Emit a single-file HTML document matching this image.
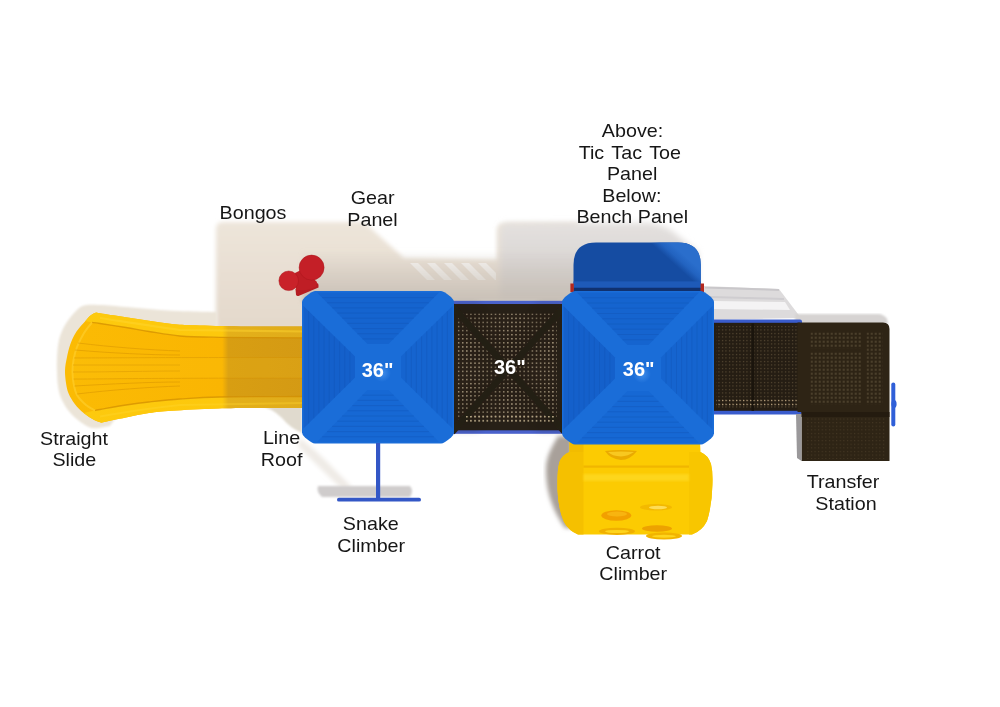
<!DOCTYPE html>
<html><head><meta charset="utf-8">
<style>
html,body{margin:0;padding:0;background:#fff;}
body{width:1000px;height:707px;overflow:hidden;position:relative;}
svg{position:absolute;left:0;top:0;display:block;}
.lb{font-family:"Liberation Sans",sans-serif;font-size:18.8px;fill:#161616;}
.n{font-family:"Liberation Sans",sans-serif;font-size:20px;font-weight:bold;fill:#fff;}
</style></head><body>
<svg width="1000" height="707" viewBox="0 0 1000 707">
<defs>
  <filter id="b3" x="-10%" y="-10%" width="120%" height="120%"><feGaussianBlur stdDeviation="3"/></filter>
  <filter id="b2" x="-10%" y="-10%" width="120%" height="120%"><feGaussianBlur stdDeviation="2"/></filter>
  <filter id="b1" x="-10%" y="-10%" width="120%" height="120%"><feGaussianBlur stdDeviation="1"/></filter>
  <filter id="b05" x="-10%" y="-10%" width="120%" height="120%"><feGaussianBlur stdDeviation="0.6"/></filter>
  <radialGradient id="glow"><stop offset="0" stop-color="#4a95ee" stop-opacity="0.8"/><stop offset="1" stop-color="#4a95ee" stop-opacity="0"/></radialGradient>
  <pattern id="dots" width="3.5" height="3.5" patternUnits="userSpaceOnUse" x="714" y="325">
    <rect width="3.5" height="3.5" fill="#251d13"/>
    <rect x="1" y="1" width="1" height="1" fill="#6e5e42"/>
  </pattern>
  <pattern id="dotsM" width="4.1" height="4.08" patternUnits="userSpaceOnUse" x="457.8" y="313.5">
    <rect width="4.1" height="4.08" fill="#2a2118"/>
    <rect x="0" y="0" width="1.6" height="1.5" fill="#968870"/>
  </pattern>
  <pattern id="dotsB" width="4.1" height="4.1" patternUnits="userSpaceOnUse" x="457.8" y="0">
    <rect x="0" y="0" width="1.7" height="4.1" fill="#b0a080"/>
  </pattern>
  <pattern id="dotsT" width="4" height="4" patternUnits="userSpaceOnUse" x="810.6" y="332.6">
    <rect width="4" height="4" fill="#2e2415"/>
    <rect x="0.5" y="0.5" width="1.3" height="1.3" fill="#786a4e"/>
  </pattern>
  <pattern id="dotsB2" width="3.5" height="4" patternUnits="userSpaceOnUse" x="715" y="0">
    <rect x="0" y="0" width="1.3" height="4" fill="#b09a78"/>
  </pattern>
  <pattern id="dots2" width="3.5" height="3.5" patternUnits="userSpaceOnUse">
    <rect width="3.5" height="3.5" fill="#352b1c"/>
    <rect x="1" y="1" width="1.1" height="1.1" fill="#8a7a58"/>
  </pattern>
  <pattern id="dots3" width="3.6" height="3.6" patternUnits="userSpaceOnUse">
    <rect width="3.6" height="3.6" fill="#2e2415"/>
    <rect x="1" y="1" width="1" height="1" fill="#4a3d28"/>
  </pattern>
  <linearGradient id="slideG" gradientUnits="userSpaceOnUse" x1="65" y1="0" x2="305" y2="0">
    <stop offset="0" stop-color="#fbbb04"/>
    <stop offset="0.655" stop-color="#fab502"/>
    <stop offset="0.68" stop-color="#d89e12"/>
    <stop offset="1" stop-color="#d49a14"/>
  </linearGradient>
  <linearGradient id="lipG" gradientUnits="userSpaceOnUse" x1="65" y1="0" x2="305" y2="0">
    <stop offset="0" stop-color="#fdca0e"/>
    <stop offset="0.655" stop-color="#fdc80c"/>
    <stop offset="0.68" stop-color="#e4b01a"/>
    <stop offset="1" stop-color="#e0ac1a"/>
  </linearGradient>
  <linearGradient id="benchG" x1="0" y1="0" x2="1" y2="0.35">
    <stop offset="0" stop-color="#1751ad"/>
    <stop offset="0.6" stop-color="#1751ad"/>
    <stop offset="0.72" stop-color="#2366c4"/>
    <stop offset="1" stop-color="#2a70d0"/>
  </linearGradient>
  <linearGradient id="benchL" gradientUnits="userSpaceOnUse" x1="674" y1="264" x2="683" y2="254">
    <stop offset="0" stop-color="#2466c4" stop-opacity="0"/>
    <stop offset="0.5" stop-color="#2466c4" stop-opacity="0.9"/>
    <stop offset="1" stop-color="#2a6ecc" stop-opacity="1"/>
  </linearGradient>
  <linearGradient id="shG" gradientUnits="userSpaceOnUse" x1="0" y1="222" x2="0" y2="320">
    <stop offset="0" stop-color="#ede5da"/>
    <stop offset="1" stop-color="#e4d9cc"/>
  </linearGradient>
  <linearGradient id="aoG" gradientUnits="userSpaceOnUse" x1="0" y1="250" x2="0" y2="300">
    <stop offset="0" stop-color="#c6beb5" stop-opacity="0"/>
    <stop offset="1" stop-color="#c6beb5" stop-opacity="0.9"/>
  </linearGradient>
  <linearGradient id="shG2" gradientUnits="userSpaceOnUse" x1="0" y1="222" x2="0" y2="300">
    <stop offset="0" stop-color="#e4e1df"/>
    <stop offset="0.6" stop-color="#d9d5d3"/>
    <stop offset="1" stop-color="#cfcac7"/>
  </linearGradient>
  <radialGradient id="xsh" cx="0.5" cy="0.5" r="0.5">
    <stop offset="0" stop-color="#000" stop-opacity="0.35"/>
    <stop offset="1" stop-color="#000" stop-opacity="0"/>
  </radialGradient>
</defs>

<!-- ===== shadows ===== -->
<g id="shadows">
  <path d="M216 229 Q216 222 223 222 L364 222 Q386 242 404 258 L497 259.5 L497 230 Q497 223 505 223 L578 223 L578 305 L305 305 L305 330 L216 330 Z" fill="url(#shG)" filter="url(#b2)"/>
  <g fill="#f8f6f3" filter="url(#b05)">
    <path d="M410 263 L418 263 L435 280 L427 280 Z"/>
    <path d="M427 263 L435 263 L452 280 L444 280 Z"/>
    <path d="M444 263 L452 263 L469 280 L461 280 Z"/>
    <path d="M461 263 L469 263 L486 280 L478 280 Z"/>
    <path d="M478 263 L486 263 L496 273 L496 280 L495 280 Z"/>
  </g>
  <path d="M215.0 312.0 C211.7 311.9 202.2 311.7 195.0 311.5 C187.8 311.3 179.7 311.2 172.0 310.8 C164.3 310.4 156.7 309.6 149.0 309.0 C141.3 308.4 134.2 307.7 126.0 307.0 C117.8 306.3 107.0 305.2 100.0 305.0 C93.0 304.8 88.2 304.3 84.0 305.5 C79.8 306.7 78.2 308.8 75.0 312.0 C71.8 315.2 67.7 320.3 65.0 325.0 C62.3 329.7 60.3 334.5 59.0 340.0 C57.7 345.5 57.3 352.7 57.0 358.0 C56.7 363.3 56.8 367.3 57.0 372.0 C57.2 376.7 57.3 381.7 58.0 386.0 C58.7 390.3 59.3 394.0 61.0 398.0 C62.7 402.0 65.2 406.3 68.0 410.0 C70.8 413.7 74.0 417.0 78.0 420.0 C82.0 423.0 86.7 427.0 92.0 428.0 C97.3 429.0 107.0 426.3 110.0 426.0 L120 412 L217 404 L217 312 Z" fill="#ebe4d8" filter="url(#b1)"/>

  <path d="M258 405 L302 405 L302 433 Q290 428 282 418 Q272 408 258 405 Z" fill="#e0dace" filter="url(#b1)"/>
  <path d="M300 438 Q318 452 335 470 Q345 480 352 487 L342 489 Q330 478 318 466 Q306 454 298 446 Z" fill="#efebe6" filter="url(#b2)"/>
  <path d="M318 486 L410 486 Q414 491 410 497 L322 497 Q316 492 318 486 Z" fill="#cfcccc" filter="url(#b1)"/>
  <path d="M558 436 C553 445 546.5 455 546 468 C545.5 490 552 510 565 528 L572 528 L572 436 Z" fill="#a8a09a" filter="url(#b2)"/>
  <path d="M703 286 L779 289 L801 318 L703 320 Z" fill="#dddbdc" filter="url(#b05)"/>
  <path d="M705 287.5 L779 290" stroke="#c9c7ca" stroke-width="2" filter="url(#b05)"/>
  <path d="M710 297 L784 299" stroke="#cfcdd0" stroke-width="2" filter="url(#b05)"/>
  <path d="M714 301 L785 302 L790 310 L714 309 Z" fill="#f4f3f4" filter="url(#b05)"/>
  <path d="M795 314 L880 314 Q888 316 888 324 L795 324 Z" fill="#d6d3d2" filter="url(#b1)"/>
  <path d="M500 230 Q500 223 508 223 L648 222.5 Q666 224 678 236 L698 252 L698 300 L500 300 Z" fill="url(#shG2)" filter="url(#b3)"/>
  <rect x="302" y="250" width="274" height="52" fill="url(#aoG)" filter="url(#b2)"/>
</g>

<!-- ===== slide ===== -->
<g id="slide">
  <path d="M305.0 326.5 C294.3 326.5 259.3 326.7 241.0 326.5 C222.7 326.3 206.5 325.7 195.0 325.3 C183.5 324.9 179.7 324.8 172.0 324.0 C164.3 323.2 156.7 321.8 149.0 320.7 C141.3 319.6 133.7 318.3 126.0 317.2 C118.3 316.1 108.0 314.6 103.0 313.8 C98.0 313.0 97.2 312.8 96.0 312.6 C95.1 313.1 92.3 314.1 90.5 315.5 C88.7 316.9 87.7 318.3 85.4 321.0 C83.1 323.7 79.0 327.7 76.5 331.5 C74.0 335.3 72.0 339.6 70.4 344.0 C68.8 348.4 67.7 353.6 66.8 358.0 C65.9 362.4 65.1 366.3 65.0 370.5 C64.9 374.7 65.4 379.2 66.0 383.0 C66.6 386.8 67.1 390.0 68.6 393.5 C70.1 397.0 72.3 400.8 74.8 404.0 C77.3 407.2 80.4 410.3 83.6 413.0 C86.8 415.7 91.2 418.4 94.2 420.0 C97.2 421.6 100.1 422.2 101.3 422.7 C105.4 421.9 118.0 419.2 126.0 417.6 C133.9 416.0 141.3 414.1 149.0 413.0 C156.7 411.9 160.5 411.5 172.0 410.7 C183.5 409.9 198.8 408.8 218.0 408.4 C237.2 407.9 272.5 408.1 287.0 408.0 C301.5 407.9 302.0 408.0 305.0 408.0 Z" fill="url(#slideG)"/>
  <path d="M305.0 326.5 C294.3 326.5 259.3 326.7 241.0 326.5 C222.7 326.3 206.5 325.7 195.0 325.3 C183.5 324.9 179.7 324.8 172.0 324.0 C164.3 323.2 156.7 321.8 149.0 320.7 C141.3 319.6 133.7 318.3 126.0 317.2 C118.3 316.1 108.0 314.6 103.0 313.8 C98.0 313.0 97.2 312.8 96.0 312.6 C95.1 313.1 92.3 314.1 90.5 315.5 C88.7 316.9 86.2 320.1 85.4 321.0 L92 322.5 C93.3 322.7 94.3 322.7 100.0 323.5 C105.7 324.3 117.8 326.2 126.0 327.5 C134.2 328.8 140.0 330.1 149.0 331.5 C158.0 332.9 168.2 335.0 180.0 336.0 C191.8 337.0 199.2 337.0 220.0 337.3 C240.8 337.6 290.8 337.7 305.0 337.8 Z" fill="url(#lipG)"/>
  <path d="M305.0 408.0 C302.0 408.0 301.5 407.9 287.0 408.0 C272.5 408.1 237.2 407.9 218.0 408.4 C198.8 408.8 183.5 409.9 172.0 410.7 C160.5 411.5 156.7 411.9 149.0 413.0 C141.3 414.1 133.9 416.0 126.0 417.6 C118.0 419.2 105.4 421.9 101.3 422.7 C100.1 422.2 97.2 421.6 94.2 420.0 C91.2 418.4 85.4 414.2 83.6 413.0 L95 410.5 C95.8 410.3 94.8 410.4 100.0 409.5 C105.2 408.6 117.8 406.2 126.0 405.0 C134.2 403.8 140.0 403.0 149.0 402.0 C158.0 401.0 168.2 399.8 180.0 399.0 C191.8 398.2 199.2 397.4 220.0 397.0 C240.8 396.6 290.8 396.6 305.0 396.5 Z" fill="url(#lipG)"/>
  <path d="M92.0 322.5 C93.3 322.7 94.3 322.7 100.0 323.5 C105.7 324.3 117.8 326.2 126.0 327.5 C134.2 328.8 140.0 330.1 149.0 331.5 C158.0 332.9 168.2 335.0 180.0 336.0 C191.8 337.0 199.2 337.0 220.0 337.3 C240.8 337.6 290.8 337.7 305.0 337.8" stroke="#d08c00" stroke-width="1.3" fill="none" opacity="0.7"/>
  <path d="M305.0 396.5 C290.8 396.6 240.8 396.6 220.0 397.0 C199.2 397.4 191.8 398.2 180.0 399.0 C168.2 399.8 158.0 401.0 149.0 402.0 C140.0 403.0 134.2 403.8 126.0 405.0 C117.8 406.2 105.2 408.6 100.0 409.5 C94.8 410.4 95.8 410.3 95.0 410.5" stroke="#d08c00" stroke-width="1.3" fill="none" opacity="0.7"/>
  <path d="M100 318 C120 321 150 326 180 330 L305 331.5" stroke="#ffd830" stroke-width="2.2" fill="none" opacity="0.45"/>
  <path d="M100 416.5 C120 413 150 408 180 405 L305 403" stroke="#ffd830" stroke-width="2" fill="none" opacity="0.35"/>
  <path d="M92.0 322.5 C90.7 324.2 86.5 328.9 84.0 333.0 C81.5 337.1 78.8 342.5 77.0 347.0 C75.2 351.5 74.2 356.0 73.5 360.0 C72.8 364.0 72.5 367.2 72.5 371.0 C72.5 374.8 72.8 379.0 73.5 383.0 C74.2 387.0 74.9 391.3 77.0 395.0 C79.1 398.7 83.0 402.4 86.0 405.0 C89.0 407.6 93.5 409.6 95.0 410.5" stroke="#ffd030" stroke-width="2" fill="none" opacity="0.6"/>
  <g stroke="#d08c00" stroke-width="0.9" fill="none" opacity="0.5">
    <path d="M78 343 C110 347 150 350 180 351"/>
    <path d="M75 350 C110 353 150 355 180 355"/>
    <path d="M74 358 C110 358 150 357.5 305 357.5"/>
    <path d="M73 365 C110 365 150 365 180 365"/>
    <path d="M73 372 C110 372 150 371 180 371"/>
    <path d="M73.5 379 C110 379 150 378 305 378"/>
    <path d="M74.5 386 C110 384 150 382 180 382"/>
    <path d="M77 394 C110 390 150 387 180 386"/>
  </g>
  <path d="M74 358 C110 358 150 357.5 305 357.5 L305 378 C150 378 110 379 74 379 Z" fill="#ffd020" opacity="0.12"/>
</g>>

<!-- ===== bongos ===== -->
<g id="bongos">
  <path d="M295.5 289 L316.5 283 Q318.5 283 318.5 285 L318.5 287.5 L298.5 296 Q296.5 296.5 296 294.5 Z" fill="#b51c22"/>
  <path d="M295 273 L303 269 L317 282 L316 287 L306.6 290 L296 290 Z" fill="#bf1e25"/>
  <circle cx="288.7" cy="280.8" r="9.8" fill="#c92229"/>
  <circle cx="311.6" cy="267.6" r="12.5" fill="#c41f27"/>
  <circle cx="288.7" cy="280.8" r="9.8" fill="none" stroke="#a8161c" stroke-width="0.8" opacity="0.6"/>
  <circle cx="311.6" cy="267.6" r="12.5" fill="none" stroke="#a8161c" stroke-width="0.8" opacity="0.6"/>
</g>

<!-- ===== middle deck ===== -->
<g id="deck1">
  <rect x="450" y="300.8" width="116" height="133" fill="#4a62cc"/>
  <rect x="453.5" y="304" width="109" height="126.3" fill="#272017"/>
  <rect x="457.8" y="313.5" width="99" height="106" fill="url(#dotsM)"/>
  <g stroke="#282017" stroke-width="7" filter="url(#b05)">
    <path d="M452 306 L565 432"/>
    <path d="M565 306 L452 432"/>
  </g>
  <path d="M453 304 L478 304 L508 352 L538 304 L563 304 L563 322 L525 368 L563 414 L563 431 L538 431 L508 386 L478 431 L453 431 L453 414 L491 368 L453 322 Z" fill="#1a140c" opacity="0.2" filter="url(#b3)"/>
  <rect x="466" y="416" width="88" height="1.5" fill="url(#dotsB)"/>
  <rect x="466" y="420.1" width="88" height="1.5" fill="url(#dotsB)"/>
</g>

<!-- ===== right decks ===== -->
<g id="deck2">
  <rect x="710" y="319.5" width="92" height="95" rx="2" fill="#3a5ccc"/>
  <rect x="713" y="322.8" width="87" height="88" fill="#251d13"/>
  <rect x="716" y="326" width="82" height="82" fill="url(#dots)"/>
  <rect x="751.5" y="323.5" width="2.5" height="87.5" fill="#1a140c"/>
  <rect x="716" y="400" width="82" height="1.2" fill="url(#dotsB2)"/>
  <rect x="716" y="404" width="82" height="1.2" fill="url(#dotsB2)"/>
  <path d="M797.5 322.5 L883 322.5 Q889.5 322.5 889.5 329 L889.5 461 L801.5 461 L801.5 412 L797.5 412 Z" fill="#2e2415"/>
  <path d="M796 414 L801.5 414 L801.5 461 L797 458 Z" fill="#9a989a" filter="url(#b05)"/>
  <rect x="810.5" y="332.3" width="51.5" height="16" fill="url(#dotsT)"/>
  <rect x="810.5" y="352.3" width="51.5" height="52" fill="url(#dotsT)"/>
  <rect x="866.5" y="332.3" width="16" height="72" fill="url(#dotsT)"/>
  <rect x="801.5" y="412" width="88" height="5" fill="#241b0f"/>
  <rect x="806" y="417" width="80" height="42" fill="url(#dots3)"/>
  <rect x="891.3" y="382.4" width="4" height="44" rx="2" fill="#2f5fd8"/>
  <ellipse cx="894" cy="404" rx="2.6" ry="4" fill="#2f5fd8"/>
</g>

<!-- ===== carrot climber ===== -->
<g id="carrot">
  <path d="M569.5 441 L700 441 L700.5 452 Q708 455 711 464 Q713 472 712.4 485 Q712 505 707 521 Q702 531 692 534.5 L578 534.5 Q569 531 564 522 Q558 508 557.5 490 Q557 470 559.5 462 Q562 455 569.5 452 Z" fill="#fccb02"/>
  <path d="M569.5 452 Q562 455 559.5 462 Q557 470 557.5 490 Q558 508 564 522 Q569 531 578 534.5 L583.5 534.5 L583.5 452 Z" fill="#f5c000"/>
  <path d="M689 452 L700.5 452 Q708 455 711 464 Q713 472 712.4 485 Q712 505 707 521 Q702 531 692 534.5 L689 534.5 Z" fill="#f8c600"/>
  <rect x="569.5" y="441" width="14" height="11" fill="#f2bc00"/>
  <rect x="583.5" y="465.5" width="105.5" height="2.2" fill="#eeb400" opacity="0.9"/>
  <rect x="583.5" y="474" width="105.5" height="7" fill="#ffe030" opacity="0.55" filter="url(#b1)"/>
  <path d="M605 451 Q621 449 637 451 Q630 460 621 460 Q610 459 605 451 Z" fill="#eaaa00"/>
  <path d="M608 452 Q621 451 634 452 Q628 456 621 456.5 Q612 456 608 452 Z" fill="#f8c820"/>
  <ellipse cx="616.3" cy="515.5" rx="15" ry="5.2" fill="#f2a000"/>
  <ellipse cx="617" cy="514" rx="10" ry="2.5" fill="#f8b410"/>
  <ellipse cx="656" cy="507.2" rx="16" ry="3.2" fill="#f0b400" opacity="0.8"/>
  <ellipse cx="658" cy="507.5" rx="9" ry="1.8" fill="#ffe060" opacity="0.9"/>
  <ellipse cx="617" cy="531.3" rx="18" ry="3.6" fill="#f0b000"/>
  <ellipse cx="617" cy="531.5" rx="12" ry="1.6" fill="#ffd820" opacity="0.9"/>
  <ellipse cx="657" cy="528.5" rx="15" ry="3.2" fill="#eda200"/>
  <ellipse cx="664" cy="536" rx="18" ry="3.4" fill="#f2b400"/>
  <ellipse cx="664" cy="536.3" rx="12" ry="1.5" fill="#ffd820" opacity="0.9"/>
</g>

<!-- ===== bench panel ===== -->
<g id="bench">
  <path d="M573.5 293 L573.5 265 Q573.5 242.4 596 242.4 L678 242.4 Q700.8 242.4 700.8 265 L700.8 293 Z" fill="#154ca2"/>
  <path d="M573.5 293 L573.5 265 Q573.5 242.4 596 242.4 L678 242.4 Q700.8 242.4 700.8 265 L700.8 293 Z" fill="url(#benchL)"/>
  <rect x="573.5" y="281.4" width="127.3" height="6.4" fill="#1e5ab8"/>
  <rect x="573.5" y="287.8" width="127.3" height="4" fill="#10316f"/>
  <rect x="570.4" y="283.5" width="3.4" height="8.5" fill="#b3281e"/>
  <rect x="700.6" y="283.5" width="3.4" height="8.5" fill="#b3281e"/>
</g>

<!-- ===== roofs ===== -->
<g id="roofL">
  <path d="M315 291 L441 291 Q444 291 451 297 Q454 300 454 302 L454 432.5 Q454 434.5 451 437.5 Q444 443.5 441 443.5 L315 443.5 Q312 443.5 305 437.5 Q302 434.5 302 432.5 L302 302 Q302 300 305 297 Q312 291 315 291 Z" fill="#1a6dd8"/>
  <path d="M317.0 292.5 L439.0 292.5 L388.5 344.0 L367.5 344.0 Z" fill="#1564cf"/>
  <path d="M317.0 442.0 L439.0 442.0 L388.5 390.0 L367.5 390.0 Z" fill="#1668d4"/>
  <path d="M303.5 306.0 L303.5 428.5 L355.0 377.5 L355.0 356.5 Z" fill="#1460cb"/>
  <path d="M452.5 306.0 L452.5 428.5 L401.0 377.5 L401.0 356.5 Z" fill="#1564cf"/>
  <path d="M322.1 297.6 L433.9 297.6 M322.1 436.8 L433.9 436.8 M308.6 311.1 L308.6 423.4 M447.4 311.1 L447.4 423.4 M327.1 302.8 L428.9 302.8 M327.1 431.6 L428.9 431.6 M313.8 316.1 L313.8 418.3 M442.2 316.1 L442.2 418.3 M332.1 307.9 L423.9 307.9 M332.1 426.4 L423.9 426.4 M318.9 321.1 L318.9 413.2 M437.1 321.1 L437.1 413.2 M337.2 313.1 L418.8 313.1 M337.2 421.2 L418.8 421.2 M324.1 326.2 L324.1 408.1 M431.9 326.2 L431.9 408.1 M342.2 318.2 L413.8 318.2 M342.2 416.0 L413.8 416.0 M329.2 331.2 L329.2 403.0 M426.8 331.2 L426.8 403.0 M347.3 323.4 L408.7 323.4 M347.3 410.8 L408.7 410.8 M334.4 336.3 L334.4 397.9 M421.6 336.3 L421.6 397.9 M352.4 328.6 L403.6 328.6 M352.4 405.6 L403.6 405.6 M339.6 341.4 L339.6 392.8 M416.4 341.4 L416.4 392.8 M357.4 333.7 L398.6 333.7 M357.4 400.4 L398.6 400.4 M344.7 346.4 L344.7 387.7 M411.3 346.4 L411.3 387.7 M362.4 338.9 L393.6 338.9 M362.4 395.2 L393.6 395.2 M349.9 351.4 L349.9 382.6 M406.1 351.4 L406.1 382.6" stroke="#1254b4" stroke-width="0.9" opacity="0.45" fill="none"/>
  <circle cx="382" cy="373" r="9" fill="url(#glow)"/>
</g>
<g id="roofR">
  <path d="M575 291 L701 291 Q704 291 711 297 Q714 300 714 302 L714 433.5 Q714 435.5 711 438.5 Q704 444.5 701 444.5 L575 444.5 Q572 444.5 565 438.5 Q562 435.5 562 433.5 L562 302 Q562 300 565 297 Q572 291 575 291 Z" fill="#1a6dd8"/>
  <path d="M577.0 292.5 L699.0 292.5 L648.5 345.0 L627.5 345.0 Z" fill="#1564cf"/>
  <path d="M577.0 443.0 L699.0 443.0 L648.5 391.0 L627.5 391.0 Z" fill="#1668d4"/>
  <path d="M563.5 306.0 L563.5 429.5 L615.0 378.5 L615.0 357.5 Z" fill="#1460cb"/>
  <path d="M712.5 306.0 L712.5 429.5 L661.0 378.5 L661.0 357.5 Z" fill="#1564cf"/>
  <path d="M582.0 297.8 L694.0 297.8 M582.0 437.8 L694.0 437.8 M568.6 311.1 L568.6 424.4 M707.4 311.1 L707.4 424.4 M587.1 303.0 L688.9 303.0 M587.1 432.6 L688.9 432.6 M573.8 316.3 L573.8 419.3 M702.2 316.3 L702.2 419.3 M592.1 308.2 L683.9 308.2 M592.1 427.4 L683.9 427.4 M579.0 321.4 L579.0 414.2 M697.0 321.4 L697.0 414.2 M597.2 313.5 L678.8 313.5 M597.2 422.2 L678.8 422.2 M584.1 326.6 L584.1 409.1 M691.9 326.6 L691.9 409.1 M602.2 318.8 L673.8 318.8 M602.2 417.0 L673.8 417.0 M589.2 331.8 L589.2 404.0 M686.8 331.8 L686.8 404.0 M607.3 324.0 L668.7 324.0 M607.3 411.8 L668.7 411.8 M594.4 336.9 L594.4 398.9 M681.6 336.9 L681.6 398.9 M612.4 329.2 L663.6 329.2 M612.4 406.6 L663.6 406.6 M599.5 342.1 L599.5 393.8 M676.5 342.1 L676.5 393.8 M617.4 334.5 L658.6 334.5 M617.4 401.4 L658.6 401.4 M604.7 347.2 L604.7 388.7 M671.3 347.2 L671.3 388.7 M622.5 339.8 L653.5 339.8 M622.5 396.2 L653.5 396.2 M609.9 352.4 L609.9 383.6 M666.1 352.4 L666.1 383.6" stroke="#1254b4" stroke-width="0.9" opacity="0.45" fill="none"/>
  <circle cx="642" cy="374" r="9" fill="url(#glow)"/>
</g>

<!-- ===== snake climber ===== -->
<g id="snake">
  <rect x="376" y="443" width="4.2" height="58" fill="#3357c6"/>
  <rect x="337" y="497.8" width="84" height="3.8" rx="1.9" fill="#3357c6"/>
</g>

<!-- ===== numbers ===== -->
<g class="n" text-anchor="middle" style="will-change:transform">
<text x="377.6" y="376.6">36"</text>
<text x="509.8" y="374.4">36"</text>
<text x="638.7" y="376.4">36"</text>
</g>

<!-- ===== labels ===== -->
<g class="lb" text-anchor="middle" style="will-change:transform">
  <text transform="translate(253 219.2) scale(1.048 1)">Bongos</text>
  <text transform="translate(372.6 203.7) scale(1.048 1)">Gear</text>
  <text transform="translate(372.5 225.7) scale(1.048 1)">Panel</text>
  <text transform="translate(632.5 137.1) scale(1.048 1)">Above:</text>
  <text transform="translate(629.8 158.5) scale(1.048 1)" word-spacing="2">Tic Tac Toe</text>
  <text transform="translate(632.1 180.1) scale(1.048 1)">Panel</text>
  <text transform="translate(631.8 201.8) scale(1.048 1)">Below:</text>
  <text transform="translate(632.3 223.2) scale(1.048 1)">Bench Panel</text>
  <text transform="translate(74 444.8) scale(1.048 1)">Straight</text>
  <text transform="translate(74.3 465.7) scale(1.048 1)">Slide</text>
  <text transform="translate(281.5 443.8) scale(1.048 1)">Line</text>
  <text transform="translate(281.6 465.9) scale(1.048 1)">Roof</text>
  <text transform="translate(370.8 530.1) scale(1.048 1)">Snake</text>
  <text transform="translate(371.2 551.6) scale(1.048 1)">Climber</text>
  <text transform="translate(633.2 559.1) scale(1.048 1)">Carrot</text>
  <text transform="translate(633.2 580.0) scale(1.048 1)">Climber</text>
  <text transform="translate(843.0 487.5) scale(1.048 1)">Transfer</text>
  <text transform="translate(846.0 509.7) scale(1.048 1)">Station</text>
</g>
</svg>
</body></html>
